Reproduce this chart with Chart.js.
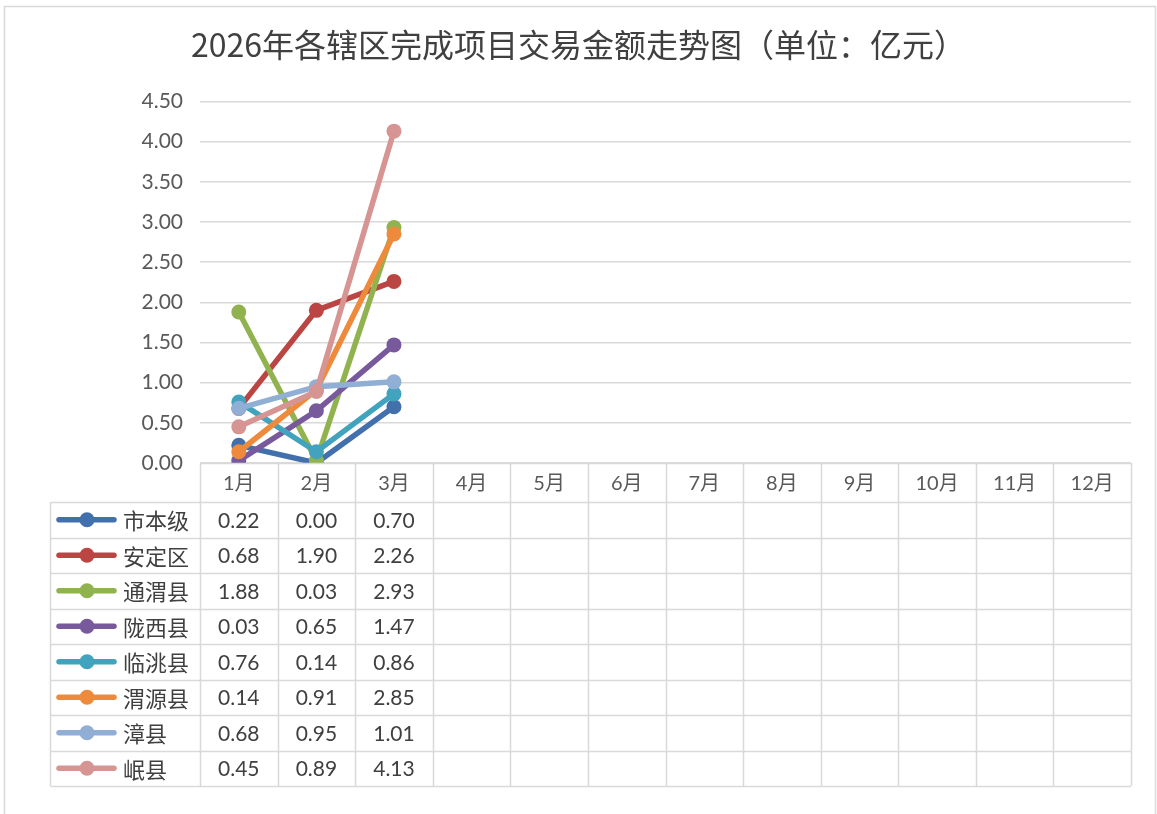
<!DOCTYPE html>
<html>
<head>
<meta charset="utf-8">
<title>2026年各辖区完成项目交易金额走势图</title>
<script src="https://cdn.jsdelivr.net/npm/chart.js@4/dist/chart.umd.min.js"></script>
<style>
    html, body { margin: 0; padding: 0; background: #fff; }
    #wrap { width: 1157px; height: 814px; position: relative; }
</style>
</head>
<body>
<div id="wrap"><canvas id="trendChart" width="1157" height="814"></canvas></div>
<script>
// Datos del gráfico
const months = ['1月', '2月', '3月', '4月', '5月', '6月', '7月', '8月', '9月', '10月', '11月', '12月'];
const regions = ['市本级', '安定区', '通渭县', '陇西县', '临洮县', '渭源县', '漳县', '岷县'];
const shiBenJi = [0.22, 0.00, 0.70];
const anDing = [0.68, 1.90, 2.26];
const tongWei = [1.88, 0.03, 2.93];
const longXi = [0.03, 0.65, 1.47];
const linTao = [0.76, 0.14, 0.86];
const weiYuan = [0.14, 0.91, 2.85];
const zhangXian = [0.68, 0.95, 1.01];
const minXian = [0.45, 0.89, 4.13];
const yTicks = [0, 0.5, 1, 1.5, 2, 2.5, 3, 3.5, 4, 4.5];

const seriesValues = [shiBenJi, anDing, tongWei, longXi, linTao, weiYuan, zhangXian, minXian];
const colors = ['#4270AC', '#BA4542', '#91B34F', '#77599C', '#41A3BD', '#EE8A3C', '#91AED5', '#D69592'];

const numFont = 'Lato, "Noto Sans CJK SC", sans-serif';
const cjkFont = '"Noto Sans CJK SC", sans-serif';
const gridColor = '#d9d9d9';

// Tabla de datos debajo del área del gráfico (estilo Excel)
const dataTablePlugin = {
    id: 'dataTable',
    beforeDraw(chart) {
        const ctx = chart.ctx;
        ctx.save();
        ctx.fillStyle = '#ffffff';
        ctx.fillRect(0, 0, chart.width, chart.height);
        ctx.strokeStyle = gridColor;
        ctx.lineWidth = 1.5;
        ctx.strokeRect(4.5, 6.5, 1151, 900);
        ctx.restore();
    },
    afterDraw(chart) {
        const ctx = chart.ctx;
        const x = chart.scales.x;
        const area = chart.chartArea;
        const cellW = (x.right - x.left) / months.length;
        const headTop = area.bottom;
        const headBottom = headTop + 39;
        const rowH = 35.5;
        const tableBottom = headBottom + rowH * regions.length;
        const legendLeft = 50.5;

        ctx.save();
        ctx.strokeStyle = gridColor;
        ctx.lineWidth = 1.5;

        // lineas horizontales
        ctx.beginPath();
        ctx.moveTo(x.left, headTop + 0.5);
        ctx.lineTo(x.right, headTop + 0.5);
        for (let r = 0; r <= regions.length; r++) {
            const yy = Math.round(headBottom + r * rowH) + 0.5;
            ctx.moveTo(legendLeft, yy);
            ctx.lineTo(x.right, yy);
        }
        // lineas verticales
        for (let k = 0; k <= months.length; k++) {
            const xx = Math.round(x.left + k * cellW) + 0.5;
            ctx.moveTo(xx, headTop);
            ctx.lineTo(xx, tableBottom);
        }
        ctx.moveTo(legendLeft, headBottom);
        ctx.lineTo(legendLeft, tableBottom);
        ctx.stroke();

        // encabezado de meses
        ctx.fillStyle = '#595959';
        ctx.textAlign = 'center';
        ctx.textBaseline = 'middle';
        ctx.font = '20px ' + numFont;
        months.forEach((m, i) => {
            ctx.fillText(m, x.getPixelForValue(i), (headTop + headBottom) / 2 + 1);
        });

        // filas
        regions.forEach((name, r) => {
            const cy = headBottom + rowH * (r + 0.5);
            // muestra de leyenda
            ctx.strokeStyle = colors[r];
            ctx.lineWidth = 5.5;
            ctx.lineCap = 'round';
            ctx.beginPath();
            ctx.moveTo(59, cy);
            ctx.lineTo(114, cy);
            ctx.stroke();
            ctx.fillStyle = colors[r];
            ctx.beginPath();
            ctx.arc(87, cy, 7.5, 0, Math.PI * 2);
            ctx.fill();

            ctx.fillStyle = '#404040';
            ctx.textAlign = 'left';
            ctx.font = '22px ' + cjkFont;
            ctx.fillText(name, 123, cy + 1);

            ctx.textAlign = 'center';
            ctx.font = '21px ' + numFont;
            seriesValues[r].forEach((v, i) => {
                if (v === null || v === undefined) return;
                ctx.fillText(v.toFixed(2), x.getPixelForValue(i), cy + 1);
            });
        });
        ctx.restore();
    }
};

const datasets = regions.map((name, i) => ({
    label: name,
    data: seriesValues[i],
    borderColor: colors[i],
    backgroundColor: colors[i],
    borderWidth: 5.5,
    pointRadius: 7.5,
    pointHoverRadius: 7.5,
    pointBorderWidth: 0,
    tension: 0,
    order: regions.length - i
}));

const ctx = document.getElementById('trendChart').getContext('2d');
new Chart(ctx, {
    type: 'line',
    data: { labels: months, datasets: datasets },
    options: {
        responsive: false,
        animation: false,
        // padding simetrico para centrar el titulo
        layout: { padding: { left: 26, right: 26, top: 0, bottom: 351 } },
        plugins: {
            legend: { display: false },
            tooltip: { enabled: false },
            title: {
                display: true,
                text: '2026年各辖区完成项目交易金额走势图（单位：亿元）',
                color: '#404040',
                font: { family: cjkFont, size: 32, weight: 'normal' },
                padding: { top: 26, bottom: 37 }
            }
        },
        scales: {
            x: {
                display: false,
                offset: true
            },
            y: {
                min: 0,
                max: 4.5,
                afterBuildTicks: (scale) => {
                    scale.ticks = yTicks.map(v => ({ value: v }));
                },
                afterFit: (scale) => { scale.width = 174; },
                border: { display: false },
                grid: { color: gridColor, lineWidth: 1.5, drawTicks: false },
                ticks: {
                    padding: 17,
                    color: '#595959',
                    font: { family: numFont, size: 21 },
                    callback: (v) => Number(v).toFixed(2)
                }
            }
        }
    },
    plugins: [dataTablePlugin]
});
</script>
</body>
</html>
